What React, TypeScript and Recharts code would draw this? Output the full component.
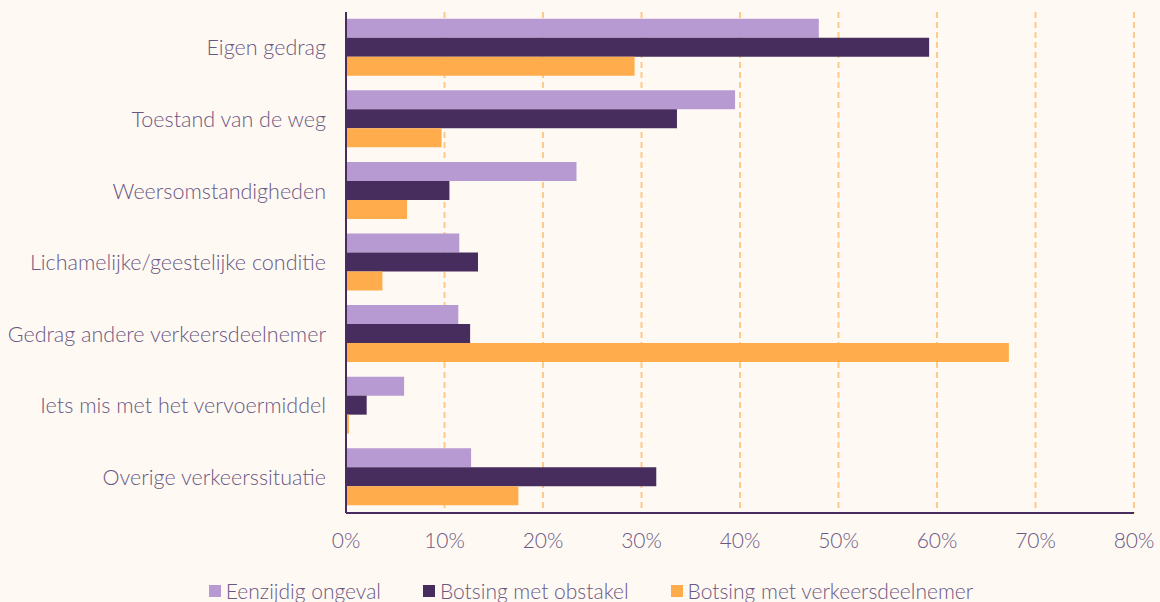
import { BarChart, Bar, XAxis, YAxis, CartesianGrid, Legend } from 'recharts';

const categories = [
  'Eigen gedrag',
  'Toestand van de weg',
  'Weersomstandigheden',
  'Lichamelijke/geestelijke conditie',
  'Gedrag andere verkeersdeelnemer',
  'Iets mis met het vervoermiddel',
  'Overige verkeerssituatie',
];

const eenzijdig = [48.0, 39.5, 23.4, 11.5, 11.4, 5.9, 12.7];
const obstakel = [59.2, 33.6, 10.5, 13.4, 12.6, 2.1, 31.5];
const verkeersdeelnemer = [29.3, 9.7, 6.2, 3.7, 67.3, 0.3, 17.5];

const xTicks = [0, 10, 20, 30, 40, 50, 60, 70, 80];

const series = [
  { key: 'eenzijdig', name: 'Eenzijdig ongeval', color: '#b79ad1' },
  { key: 'obstakel', name: 'Botsing met obstakel', color: '#472c5e' },
  { key: 'verkeersdeelnemer', name: 'Botsing met verkeersdeelnemer', color: '#ffad4c' },
];

const data = categories.map((name, i) => ({
  name,
  eenzijdig: eenzijdig[i],
  obstakel: obstakel[i],
  verkeersdeelnemer: verkeersdeelnemer[i],
}));

const textColor = '#6a5884';
const font = 'Lato, "DejaVu Sans", sans-serif';

function LegendContent() {
  return (
    <div style={{ display: 'flex', justifyContent: 'center', gap: 42, paddingLeft: 22 }}>
      {series.map(s => (
        <div key={s.key} style={{ display: 'flex', alignItems: 'center' }}>
          <span style={{ width: 12, height: 12, background: s.color, marginRight: 5, display: 'inline-block' }} />
          <span style={{ color: textColor, fontSize: 21, fontWeight: 300, fontFamily: font }}>{s.name}</span>
        </div>
      ))}
    </div>
  );
}

export default function App() {
  return (
    <div style={{ position: 'absolute', left: 0, top: 0, width: 1160, height: 602, background: '#fff9f3', overflow: 'hidden', fontFamily: font }}>
      <BarChart
        width={1160}
        height={602}
        data={data}
        layout="vertical"
        margin={{ top: 12, right: 26, bottom: 34, left: 0 }}
        barCategoryGap="9.5%"
        barGap={0}
      >
        <CartesianGrid horizontal={false} stroke="#ffc98a" strokeDasharray="6 4" strokeWidth={2} />
        <XAxis
          type="number"
          domain={[0, 80]}
          ticks={xTicks}
          tickFormatter={(v: number) => `${v}%`}
          tickLine={false}
          axisLine={{ stroke: '#472c5e', strokeWidth: 2 }}
          tick={{ fill: textColor, fontSize: 21, fontWeight: 300 }}
          tickMargin={14}
          interval={0}
        />
        <YAxis
          type="category"
          dataKey="name"
          width={346}
          tickLine={false}
          axisLine={{ stroke: '#472c5e', strokeWidth: 2 }}
          tick={{ fill: textColor, fontSize: 21.5, fontWeight: 300 }}
          tickMargin={14}
          interval={0}
        />
        {series.map(s => (
          <Bar key={s.key} dataKey={s.key} name={s.name} fill={s.color} isAnimationActive={false} />
        ))}
        <Legend content={<LegendContent />} wrapperStyle={{ top: 578, left: 0, width: 1160 }} />
      </BarChart>
    </div>
  );
}
